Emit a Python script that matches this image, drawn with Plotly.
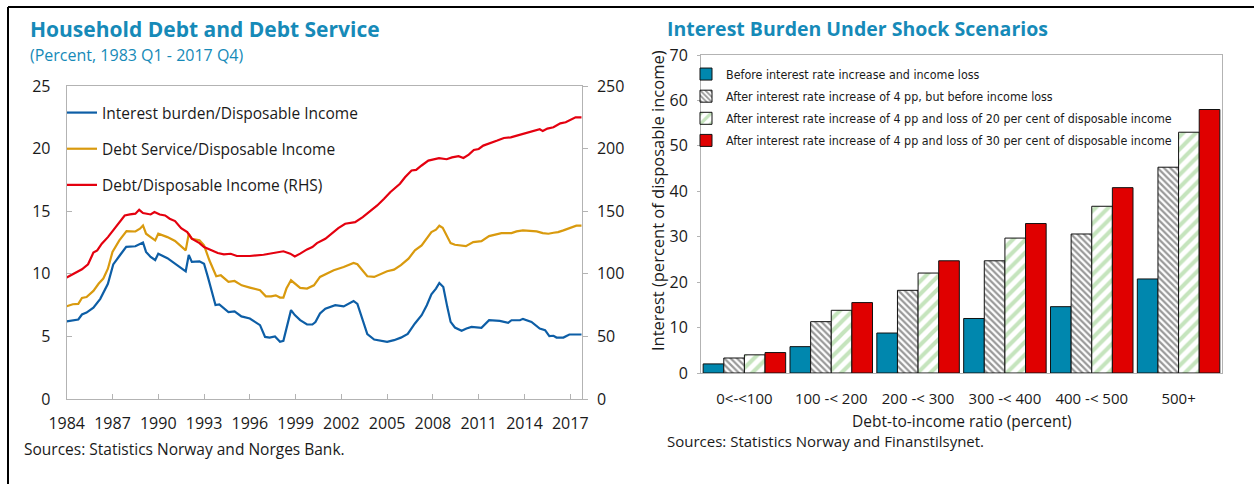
import plotly.graph_objects as go

# ---------------- Data: left chart ----------------
x_interest = [1984.0, 1984.76, 1985.0, 1985.3, 1985.75, 1986.2, 1986.7, 1987.05, 1987.5, 1987.9,
              1988.5, 1989.0, 1989.2, 1989.5, 1989.8, 1990.0, 1990.6, 1991.1, 1991.8, 1992.0,
              1992.2, 1992.7, 1993.0, 1993.25, 1993.75, 1994.0, 1994.6, 1995.0, 1995.45, 1996.0,
              1996.67, 1997.0, 1997.3, 1997.65, 1997.98, 1998.2, 1998.7, 1998.95, 1999.3, 1999.75,
              2000.1, 2000.3, 2000.6, 2000.95, 2001.3, 2001.6, 2002.15, 2002.5, 2002.8, 2003.05,
              2003.4, 2003.7, 2004.15, 2004.6, 2005.0, 2005.45, 2005.9, 2006.35, 2006.82, 2007.26,
              2007.6, 2007.9, 2008.2, 2008.42, 2008.68, 2008.94, 2009.16, 2009.44, 2009.88, 2010.2,
              2010.53, 2011.18, 2011.68, 2012.38, 2012.93, 2013.15, 2013.7, 2013.9, 2014.46, 2015.0,
              2015.35, 2015.63, 2015.9, 2016.1, 2016.55, 2016.94, 2017.75]
interest_burden = [6.2, 6.35, 6.75, 6.9, 7.3, 8.0, 9.2, 10.75, 11.5, 12.15,
                   12.2, 12.5, 11.75, 11.35, 11.1, 11.6, 11.25, 10.8, 10.2, 11.5,
                   10.95, 11.0, 10.8, 9.75, 7.5, 7.55, 6.95, 7.0, 6.6, 6.43,
                   5.9, 4.96, 4.9, 5.0, 4.57, 4.65, 7.1, 6.7, 6.3, 5.95,
                   5.95, 6.15, 6.83, 7.22, 7.35, 7.5, 7.4, 7.6, 7.83, 7.6,
                   6.3, 5.18, 4.75, 4.65, 4.57, 4.7, 4.9, 5.2, 6.03, 6.69,
                   7.49, 8.37, 8.82, 9.27, 8.95, 7.36, 6.16, 5.71, 5.45, 5.63,
                   5.76, 5.68, 6.29, 6.24, 6.08, 6.29, 6.29, 6.4, 6.16, 5.63,
                   5.5, 5.02, 5.05, 4.91, 4.91, 5.15, 5.15]

x_debt_service = [1984.0, 1984.4, 1984.76, 1985.0, 1985.3, 1985.75, 1986.1, 1986.4, 1986.7, 1987.0,
                  1987.45, 1987.92, 1988.5, 1988.8, 1989.0, 1989.2, 1989.5, 1989.8, 1990.0, 1990.6,
                  1991.1, 1991.8, 1992.0, 1992.2, 1992.7, 1993.0, 1993.35, 1993.8, 1994.1, 1994.6,
                  1995.0, 1995.47, 1996.0, 1996.67, 1997.05, 1997.4, 1997.7, 1997.98, 1998.2, 1998.4,
                  1998.7, 1998.95, 1999.3, 1999.75, 2000.2, 2000.6, 2001.05, 2001.5, 2002.15, 2002.5,
                  2002.8, 2003.05, 2003.4, 2003.7, 2004.15, 2004.6, 2005.0, 2005.45, 2005.9, 2006.4,
                  2006.82, 2007.26, 2007.6, 2007.9, 2008.2, 2008.42, 2008.64, 2008.9, 2009.16, 2009.44,
                  2010.16, 2010.64, 2011.18, 2011.68, 2012.16, 2012.49, 2013.15, 2013.48, 2013.9, 2014.8,
                  2015.2, 2015.57, 2015.9, 2016.2, 2016.55, 2017.1, 2017.4, 2017.75]
debt_service = [7.41, 7.57, 7.6, 8.07, 8.15, 8.63, 9.22, 9.62, 10.41, 11.74,
                12.67, 13.41, 13.38, 13.6, 13.86, 13.2, 12.93, 12.67, 13.2, 12.93,
                12.62, 11.87, 13.2, 12.8, 12.67, 12.27, 11.08, 9.8, 9.88, 9.35,
                9.43, 9.08, 8.9, 8.69, 8.2, 8.2, 8.28, 8.1, 8.1, 8.82,
                9.48, 9.22, 8.87, 8.82, 9.08, 9.75, 10.0, 10.28, 10.54, 10.68,
                10.86, 10.76, 10.28, 9.8, 9.75, 10.0, 10.2, 10.33, 10.7, 11.21,
                11.87, 12.27, 12.8, 13.33, 13.52, 13.84, 13.68, 13.07, 12.45, 12.32,
                12.21, 12.53, 12.61, 13.01, 13.12, 13.25, 13.25, 13.39, 13.47, 13.39,
                13.25, 13.2, 13.28, 13.33, 13.47, 13.68, 13.84, 13.84]

x_debt = [1984.0, 1984.4, 1985.0, 1985.4, 1985.75, 1986.0, 1986.3, 1986.7, 1987.15, 1987.5,
          1987.8, 1988.15, 1988.5, 1988.75, 1989.0, 1989.5, 1989.75, 1990.1, 1990.45, 1990.75,
          1991.1, 1991.5, 1991.9, 1992.2, 1992.7, 1993.0, 1993.45, 1993.9, 1994.3, 1994.75,
          1995.15, 1996.0, 1996.9, 1997.55, 1998.2, 1998.65, 1998.95, 1999.3, 1999.75, 2000.1,
          2000.4, 2000.95, 2001.4, 2001.8, 2002.25, 2002.9, 2003.4, 2003.9, 2004.35, 2004.8,
          2005.2, 2005.84, 2006.17, 2006.6, 2006.9, 2007.26, 2007.7, 2008.4, 2008.9, 2009.25,
          2009.68, 2010.0, 2010.35, 2010.68, 2011.0, 2011.3, 2011.78, 2012.22, 2012.65, 2013.1,
          2013.5, 2013.9, 2014.4, 2014.8, 2015.0, 2015.2, 2015.5, 2015.9, 2016.35, 2016.7,
          2017.0, 2017.35, 2017.75]
debt_ratio = [97, 99.6, 103.6, 107.6, 116.9, 118.7, 124, 129.3, 136, 141.3,
              146.6, 147.4, 148, 151.1, 148.5, 147.4, 149.3, 147.4, 146.6, 144,
              142.1, 136.5, 133.3, 128, 124.5, 121.4, 118.7, 116.6, 115.5, 116,
              114.2, 114.2, 115.2, 116.6, 118, 116.1, 113.9, 116.1, 119.5, 121.4,
              124.5, 128, 132.5, 136.5, 140, 141.3, 145.3, 150, 154.6, 159.9,
              165.2, 171.9, 177.1, 182.5, 183, 186.5, 190.4, 192.3, 191.5, 193,
              194, 192.5, 195.2, 198.9, 199.7, 202.4, 204.2, 206.4, 208.5, 209,
              210.4, 211.7, 213, 214.5, 215.5, 214, 216, 217, 220.2, 221,
              223, 225, 225]

year_ticks = [1984, 1987, 1990, 1993, 1996, 1999, 2002, 2005, 2008, 2011, 2014, 2017]

# ---------------- Data: right chart ----------------
categories = ["0<-<100", "100 -< 200", "200 -< 300", "300 -< 400", "400 -< 500", "500+"]
before = [2.0, 5.8, 8.8, 12.0, 14.6, 20.7]
after_rate = [3.3, 11.3, 18.2, 24.7, 30.6, 45.3]
after_rate_loss20 = [4.0, 13.8, 22.0, 29.7, 36.7, 53.0]
after_rate_loss30 = [4.5, 15.5, 24.7, 32.9, 40.8, 58.0]

# ---------------- Helpers ----------------
W, H = 1254, 484
def fx(p):
    return p / W
def fy(p):
    return 1 - p / H

FONT = "Open Sans, Noto Sans, sans-serif"
NARROW = "Liberation Sans Narrow, Arial Narrow, DejaVu Sans Condensed, Liberation Sans"
TEAL = "#168ab8"
AX = "#b3b3b3"
TXT = "#1a1a1a"

fig = go.Figure()

fig.add_trace(go.Scatter(x=x_interest, y=interest_burden, mode="lines",
                         name="Interest burden/Disposable Income",
                         line=dict(color="#0d5ea6", width=2.2),
                         xaxis="x", yaxis="y", legend="legend", legendgroup="l1"))
fig.add_trace(go.Scatter(x=x_debt_service, y=debt_service, mode="lines",
                         name="Debt Service/Disposable Income",
                         line=dict(color="#d99a0e", width=2.2),
                         xaxis="x", yaxis="y", legend="legend", legendgroup="l2"))
fig.add_trace(go.Scatter(x=x_debt, y=debt_ratio, mode="lines",
                         name="Debt/Disposable Income (RHS)",
                         line=dict(color="#e4000f", width=2.2),
                         xaxis="x", yaxis="y2", legend="legend", legendgroup="l3"))

outline = dict(color="#111111", width=1)
fig.add_trace(go.Bar(x=categories, y=before, name="Before interest rate increase and income loss",
                     marker=dict(color="#0087ae", line=outline),
                     xaxis="x2", yaxis="y3", legend="legend2", legendgroup="b1"))
fig.add_trace(go.Bar(x=categories, y=after_rate,
                     name="After interest rate increase of 4 pp, but before income loss",
                     marker=dict(color="white", line=outline,
                                 pattern=dict(shape="\\", fgcolor="#333333", bgcolor="white",
                                              size=4.5, solidity=0.5)),
                     xaxis="x2", yaxis="y3", legend="legend2", legendgroup="b2"))
fig.add_trace(go.Bar(x=categories, y=after_rate_loss20,
                     name="After interest rate increase of 4 pp and loss of 20 per cent of disposable income",
                     marker=dict(color="white", line=outline,
                                 pattern=dict(shape="/", fgcolor="#8cc97c", bgcolor="white",
                                              size=9, solidity=0.45)),
                     xaxis="x2", yaxis="y3", legend="legend2", legendgroup="b3"))
fig.add_trace(go.Bar(x=categories, y=after_rate_loss30,
                     name="After interest rate increase of 4 pp and loss of 30 per cent of disposable income",
                     marker=dict(color="#e00000", line=outline),
                     xaxis="x2", yaxis="y3", legend="legend2", legendgroup="b4"))

tickfont = dict(family=FONT, size=16, color=TXT)

fig.update_layout(
    width=W, height=H,
    margin=dict(l=0, r=0, t=0, b=0, pad=0, autoexpand=False),
    paper_bgcolor="white", plot_bgcolor="white",
    barmode="group", bargap=0.05, bargroupgap=0,
    xaxis=dict(domain=[fx(66.7), fx(581.7)], range=[1984, 2017.75], anchor="y",
               tickvals=year_ticks, ticks="inside", ticklen=5, tickcolor=AX,
               showline=True, linecolor=AX, linewidth=1, mirror=True, automargin=False,
               showgrid=False, zeroline=False, tickfont=tickfont, ticklabelstandoff=10),
    yaxis=dict(domain=[fy(399), fy(86)], range=[0, 25], dtick=5, anchor="x",
               ticks="inside", ticklen=5, tickcolor=AX, automargin=False,
               showline=True, linecolor=AX, linewidth=1,
               showgrid=False, zeroline=False, tickfont=tickfont, ticklabelstandoff=12),
    yaxis2=dict(overlaying="y", side="right", range=[0, 250], dtick=50, anchor="x",
                ticks="outside", ticklen=5, tickcolor=AX, automargin=False,
                showline=True, linecolor=AX, linewidth=1,
                showgrid=False, zeroline=False, tickfont=tickfont, ticklabelstandoff=6),
    xaxis2=dict(domain=[fx(701), fx(1222)], anchor="y3", type="category",
                ticks="", showline=True, linecolor=AX, linewidth=1, mirror=True,
                showgrid=False, zeroline=False, automargin=False,
                tickfont=dict(family=FONT, size=15, color=TXT), ticklabelstandoff=12),
    yaxis3=dict(domain=[fy(373), fy(55)], range=[0, 70], dtick=10, anchor="x2",
                ticks="outside", ticklen=3, tickcolor=AX, automargin=False,
                showline=True, linecolor=AX, linewidth=1, mirror=True,
                showgrid=False, zeroline=False, tickfont=tickfont, ticklabelstandoff=6),
    legend=dict(x=fx(62), y=fy(96), xanchor="left", yanchor="top",
                bgcolor="rgba(0,0,0,0)", borderwidth=0, tracegroupgap=13,
                font=dict(family=FONT, size=15.5, color=TXT), itemclick=False),
    legend2=dict(x=fx(686), y=fy(59.5), xanchor="left", yanchor="top",
                 bgcolor="rgba(0,0,0,0)", borderwidth=0, tracegroupgap=3,
                 font=dict(family=NARROW, size=12.4, color=TXT), itemclick=False),
    showlegend=True,
)

ann = [
    dict(text="<b>Household Debt and Debt Service</b>", x=fx(28), y=fy(28.5),
         font=dict(family=FONT, size=21, color=TEAL)),
    dict(text="(Percent, 1983 Q1 - 2017 Q4)", x=fx(28), y=fy(54.5),
         font=dict(family=FONT, size=16, color=TEAL)),
    dict(text="Sources: Statistics Norway and Norges Bank.", x=fx(22), y=fy(449),
         font=dict(family=FONT, size=15.5, color=TXT)),
    dict(text="<b>Interest Burden Under Shock Scenarios</b>", x=fx(665), y=fy(29),
         font=dict(family=FONT, size=19.5, color=TEAL)),
    dict(text="Sources: Statistics Norway and Finanstilsynet.", x=fx(665), y=fy(441),
         font=dict(family=FONT, size=15, color=TXT)),
]
for a in ann:
    fig.add_annotation(xref="paper", yref="paper", xanchor="left", yanchor="middle",
                       showarrow=False, **a)
fig.add_annotation(text="Debt-to-income ratio (percent)", xref="paper", yref="paper",
                   x=fx(962), y=fy(421), xanchor="center", yanchor="middle", showarrow=False,
                   font=dict(family=FONT, size=15.5, color=TXT))
fig.add_annotation(text="Interest (percent of disposable income)", xref="paper", yref="paper",
                   x=fx(657), y=fy(201), xanchor="center", yanchor="middle", showarrow=False,
                   textangle=-90, font=dict(family=FONT, size=16.5, color=TXT))

# outer frame
fig.add_shape(type="line", xref="paper", yref="paper", x0=fx(8), x1=1, y0=fy(7), y1=fy(7),
              line=dict(color="black", width=2))
fig.add_shape(type="line", xref="paper", yref="paper", x0=fx(8), x1=fx(8), y0=0, y1=fy(7),
              line=dict(color="black", width=2))

fig.write_html("out.html", config={"displayModeBar": False},
               post_script="document.body.style.margin='0px';document.body.style.padding='0px';")
